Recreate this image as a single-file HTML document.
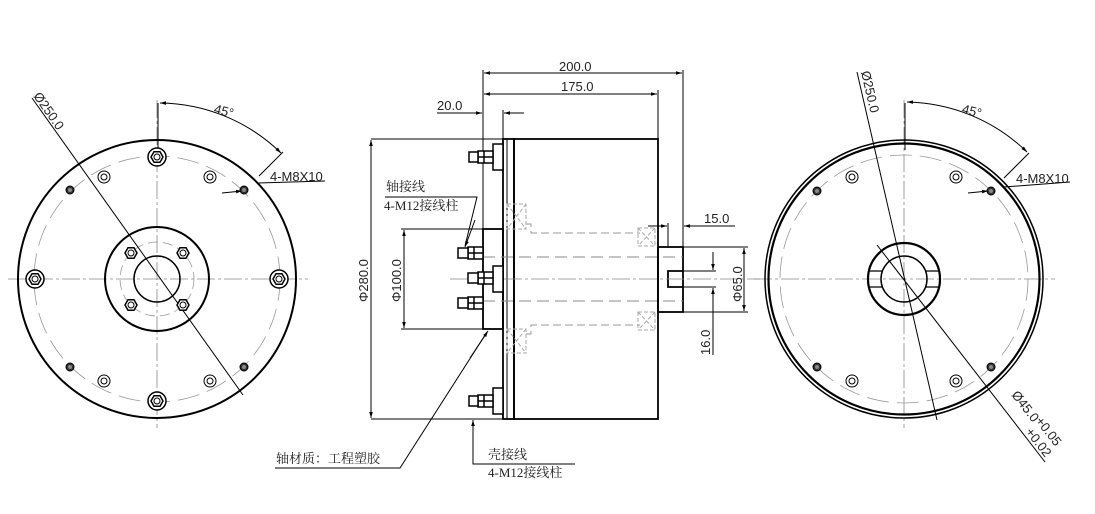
<!DOCTYPE html>
<html><head><meta charset="utf-8"><style>
html,body{margin:0;padding:0;background:#fff}
svg{display:block}
text{font-family:"Liberation Sans","DejaVu Sans",sans-serif;font-size:13px;fill:#222}
.cn{font-family:"Liberation Serif","Noto Serif CJK SC",serif;font-size:13px}
</style></head><body>
<svg width="1095" height="514" viewBox="0 0 1095 514" xmlns="http://www.w3.org/2000/svg">
<defs>
<marker id="ar" viewBox="0 0 10 10" refX="10" refY="5" markerWidth="9" markerHeight="6" orient="auto-start-reverse" markerUnits="userSpaceOnUse"><path d="M0,2 L10,5 L0,8 z" fill="#000"/></marker>
<g id="nut"><circle r="9" fill="#fff" stroke="#000" stroke-width="1.5"/><polygon points="6,0 3,5.2 -3,5.2 -6,0 -3,-5.2 3,-5.2" fill="#fff" stroke="#000" stroke-width="1.5"/><circle r="3" fill="none" stroke="#000" stroke-width="1"/></g>
<g id="snut"><polygon points="6,0 3,5.2 -3,5.2 -6,0 -3,-5.2 3,-5.2" fill="#fff" stroke="#000" stroke-width="1.5"/><circle r="3" fill="none" stroke="#000" stroke-width="1"/></g>
<g id="hole"><circle r="6" fill="none" stroke="#000" stroke-width="1"/><circle r="3" fill="none" stroke="#000" stroke-width="1"/></g>
<g id="dhole"><circle r="4" fill="#333" stroke="#000" stroke-width="1"/><circle r="2" fill="#888"/></g>
</defs>

<!-- LEFT VIEW -->
<g stroke="#000" fill="none">
<line x1="8" y1="279" x2="308" y2="279" stroke="#888" stroke-width="0.8" stroke-dasharray="18,3,3,3"/>
<line x1="157" y1="100" x2="157" y2="428" stroke="#888" stroke-width="0.8" stroke-dasharray="18,3,3,3"/>
<circle cx="157" cy="279" r="139" stroke-width="2"/>
<circle cx="157" cy="279" r="123" stroke="#999" stroke-width="0.8" stroke-dasharray="22,8"/>
<circle cx="157" cy="279" r="52" stroke-width="2"/>
<circle cx="157" cy="279" r="37" stroke="#999" stroke-width="0.8" stroke-dasharray="10,5"/>
<circle cx="157" cy="279" r="23" stroke-width="1.5"/>
<line x1="32" y1="98" x2="243" y2="395" stroke-width="1"/>
<line x1="158" y1="103" x2="158" y2="150" stroke-width="1"/>
<path d="M160,103 A176,176 0 0 1 281,153" stroke-width="1" marker-start="url(#ar)" marker-end="url(#ar)"/>
<line x1="283" y1="152" x2="259" y2="176" stroke-width="1"/>
<line x1="258" y1="183" x2="325" y2="181" stroke-width="1"/>
<line x1="222" y1="193" x2="242" y2="191" stroke-width="1" marker-end="url(#ar)"/>
</g>
<use href="#nut" x="157" y="157"/><use href="#nut" x="157" y="401"/><use href="#nut" x="35" y="279"/><use href="#nut" x="279" y="279"/>
<use href="#snut" x="131" y="253"/><use href="#snut" x="183" y="253"/><use href="#snut" x="131" y="305"/><use href="#snut" x="183" y="305"/>
<use href="#hole" x="104" y="177"/><use href="#hole" x="210" y="177"/><use href="#hole" x="104" y="381"/><use href="#hole" x="210" y="381"/>
<use href="#dhole" x="70" y="190"/><use href="#dhole" x="244" y="190"/><use href="#dhole" x="70" y="367"/><use href="#dhole" x="244" y="367"/>
<text transform="translate(33,96) rotate(55)">Ø250.0</text>
<text x="214" y="115" transform="rotate(15 222 111)">45°</text>
<text x="270" y="181" font-size="12">4-M8X10</text>

<!-- MIDDLE VIEW -->
<g stroke="#000" fill="none" stroke-width="1">
<line x1="483" y1="70" x2="483" y2="229"/>
<line x1="683" y1="70" x2="683" y2="247"/>
<line x1="658" y1="90" x2="658" y2="139"/>
<line x1="484" y1="73" x2="682" y2="73" marker-start="url(#ar)" marker-end="url(#ar)"/>
<line x1="484" y1="94" x2="657" y2="94" marker-start="url(#ar)" marker-end="url(#ar)"/>
<line x1="437" y1="113" x2="482" y2="113" marker-end="url(#ar)"/>
<line x1="524" y1="113" x2="504" y2="113" marker-end="url(#ar)"/>
<line x1="503" y1="110" x2="503" y2="139"/>
<line x1="371" y1="139" x2="503" y2="139"/><line x1="371" y1="419" x2="503" y2="419"/>
<line x1="371" y1="140" x2="371" y2="418" marker-start="url(#ar)" marker-end="url(#ar)"/>
<line x1="401" y1="229" x2="483" y2="229"/><line x1="401" y1="329" x2="483" y2="329"/>
<line x1="404" y1="230" x2="404" y2="328" marker-start="url(#ar)" marker-end="url(#ar)"/>
<line x1="668" y1="223" x2="668" y2="247"/>
<line x1="648" y1="226" x2="667" y2="226" marker-end="url(#ar)"/>
<line x1="735" y1="226" x2="684" y2="226" marker-end="url(#ar)"/>
<line x1="683" y1="247" x2="748" y2="247"/><line x1="683" y1="312" x2="748" y2="312"/>
<line x1="744" y1="248" x2="744" y2="311" marker-start="url(#ar)" marker-end="url(#ar)"/>
<line x1="668" y1="271" x2="716" y2="271"/><line x1="668" y1="287" x2="716" y2="287"/>
<line x1="713" y1="252" x2="713" y2="270" marker-end="url(#ar)"/>
<line x1="713" y1="355" x2="713" y2="288" marker-end="url(#ar)"/>
<rect x="514" y="139" width="144" height="280" stroke-width="1.8"/>
<rect x="503" y="139" width="11" height="280" stroke-width="1.8"/>
<line x1="507" y1="139" x2="507" y2="419"/>
<rect x="483" y="229" width="20" height="100" stroke-width="1.8"/>
<rect x="658" y="247" width="25" height="65" stroke-width="1.8"/>
<polyline points="683,271 668,271 668,287 683,287" stroke-width="1.8"/>
<line x1="450" y1="279" x2="760" y2="279" stroke="#888" stroke-width="0.8" stroke-dasharray="18,3,3,3"/>
<line x1="483" y1="257" x2="683" y2="257" stroke="#888" stroke-dasharray="12,6"/>
<line x1="483" y1="301" x2="683" y2="301" stroke="#888" stroke-dasharray="12,6"/>
<polyline points="526,224 531,224 531,233 640,233" stroke="#999" stroke-dasharray="8,4"/>
<polyline points="526,334 531,334 531,325 640,325" stroke="#999" stroke-dasharray="8,4"/>
<g stroke="#aaa" stroke-dasharray="4,2">
<rect x="507" y="204" width="19" height="25"/><path d="M507,204 L526,229 M526,204 L507,229"/>
<rect x="507" y="329" width="19" height="24"/><path d="M507,329 L526,353 M526,329 L507,353"/>
<rect x="638" y="228" width="17" height="18"/><path d="M638,228 L655,246 M655,228 L638,246"/>
<rect x="638" y="312" width="17" height="18"/><path d="M638,312 L655,330 M655,312 L638,330"/>
</g>
<g stroke-width="1.5" fill="#fff">
<rect x="493" y="144" width="10" height="26"/><rect x="478" y="151" width="15" height="12"/><rect x="469" y="152" width="9" height="10"/>
<line x1="484" y1="151" x2="484" y2="163"/><line x1="478" y1="157" x2="493" y2="157"/>
<rect x="493" y="388" width="10" height="26"/><rect x="478" y="395" width="15" height="12"/><rect x="469" y="396" width="9" height="10"/>
<line x1="484" y1="395" x2="484" y2="407"/><line x1="478" y1="401" x2="493" y2="401"/>
<rect x="493" y="266" width="10" height="26"/><rect x="478" y="272" width="15" height="12"/><rect x="468" y="273" width="10" height="10"/>
<line x1="484" y1="272" x2="484" y2="284"/><line x1="478" y1="278" x2="493" y2="278"/>
<rect x="468" y="247" width="15" height="12"/><rect x="458" y="248" width="10" height="10"/>
<line x1="474" y1="247" x2="474" y2="259"/><line x1="468" y1="253" x2="483" y2="253"/>
<rect x="468" y="297" width="15" height="12"/><rect x="458" y="298" width="10" height="10"/>
<line x1="474" y1="297" x2="474" y2="309"/><line x1="468" y1="303" x2="483" y2="303"/>
</g>
<polyline points="385,197 477,197 465,246"/>
<line x1="475" y1="220" x2="465" y2="247" marker-end="url(#ar)"/>
<polyline points="275,468 400,468 487,332"/>
<line x1="470" y1="358" x2="488" y2="331" marker-end="url(#ar)"/>
<polyline points="575,464 473,464 473,420"/>
<line x1="473" y1="440" x2="473" y2="420" marker-end="url(#ar)"/>
</g>
<text x="559" y="71">200.0</text>
<text x="561" y="91">175.0</text>
<text x="437" y="110">20.0</text>
<text x="704" y="223">15.0</text>
<text transform="translate(368,302) rotate(-90)">Φ280.0</text>
<text transform="translate(401,302) rotate(-90)">Φ100.0</text>
<text transform="translate(742,302) rotate(-90)">Φ65.0</text>
<text transform="translate(710,355) rotate(-90)">16.0</text>
<text class="cn" x="386" y="191">轴接线</text>
<text class="cn" x="384" y="210">4-M12接线柱</text>
<text class="cn" x="276" y="463">轴材质：工程塑胶</text>
<text class="cn" x="488" y="459">壳接线</text>
<text class="cn" x="488" y="477">4-M12接线柱</text>

<!-- RIGHT VIEW -->
<g stroke="#000" fill="none">
<line x1="754" y1="279" x2="1055" y2="279" stroke="#888" stroke-width="0.8" stroke-dasharray="18,3,3,3"/>
<line x1="904" y1="100" x2="904" y2="428" stroke="#888" stroke-width="0.8" stroke-dasharray="18,3,3,3"/>
<circle cx="904" cy="279" r="139" stroke-width="1.5"/>
<circle cx="904" cy="279" r="135.5" stroke-width="2.2"/>
<circle cx="904" cy="279" r="124" stroke="#999" stroke-width="0.8" stroke-dasharray="22,8"/>
<circle cx="904" cy="279" r="36" stroke-width="2.2"/>
<circle cx="904" cy="279" r="23" stroke-width="1.5"/>
<path d="M869,271 L883,271 M869,287 L883,287 M925,271 L939,271 M925,287 L939,287" stroke-width="1.2"/>
<line x1="857" y1="72" x2="937" y2="420" stroke-width="1"/>
<line x1="877" y1="245" x2="1045" y2="462" stroke-width="1"/>
<line x1="905" y1="103" x2="905" y2="150" stroke-width="1"/>
<path d="M907,102 A177,177 0 0 1 1027,152" stroke-width="1" marker-start="url(#ar)" marker-end="url(#ar)"/>
<line x1="1029" y1="153" x2="1004" y2="178" stroke-width="1"/>
<line x1="1004" y1="187" x2="1070" y2="182" stroke-width="1"/>
<line x1="968" y1="193" x2="988" y2="191" stroke-width="1" marker-end="url(#ar)"/>
</g>
<use href="#hole" x="852" y="177"/><use href="#hole" x="956" y="177"/><use href="#hole" x="852" y="381"/><use href="#hole" x="956" y="381"/>
<use href="#dhole" x="817" y="191"/><use href="#dhole" x="991" y="191"/><use href="#dhole" x="817" y="367"/><use href="#dhole" x="991" y="367"/>
<text transform="translate(861,72) rotate(77)">Ø250.0</text>
<text x="962" y="115" transform="rotate(15 970 111)">45°</text>
<text x="1016" y="183" font-size="12">4-M8X10</text>
<text transform="translate(1011,395) rotate(52)">Ø45.0</text>
<text transform="translate(1035,421) rotate(52)" font-size="12">+0.05</text>
<text transform="translate(1025,432) rotate(52)" font-size="12">+0.02</text>
</svg>
</body></html>
